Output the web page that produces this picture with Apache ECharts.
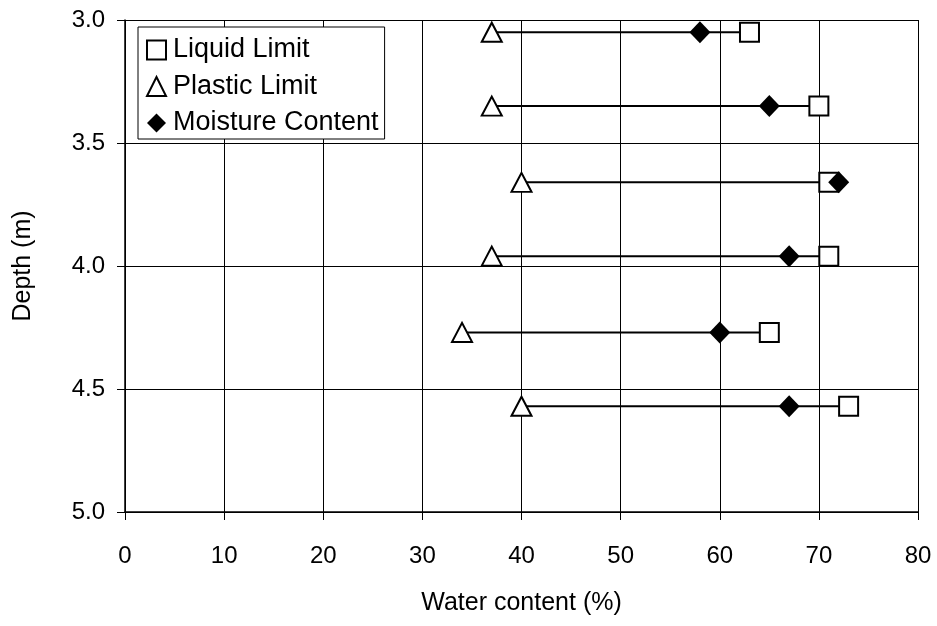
<!DOCTYPE html>
<html>
<head>
<meta charset="utf-8">
<script src="https://cdn.jsdelivr.net/npm/echarts@6/dist/echarts.min.js"></script>
<style>html,body{margin:0;padding:0;background:#fff}#c{width:937px;height:626px}</style>
</head>
<body>
<div id="c"></div>
<script>
// Depths (m)
const depths = [3.05, 3.35, 3.66, 3.96, 4.27, 4.57];
// Water contents (%)
const liquidLimit = [63, 70, 71, 71, 65, 73];
const plasticLimit = [37, 37, 40, 37, 34, 40];
const moistureContent = [58, 65, 72, 67, 60, 67];
const xTicks = [0, 10, 20, 30, 40, 50, 60, 70, 80];
const yTicks = [3.0, 3.5, 4.0, 4.5, 5.0];

const FONT = 'Liberation Sans, Arial, sans-serif';
const chart = echarts.init(document.getElementById('c'));

const connectors = depths.map((d, i) => ({
  type: 'line',
  data: [[plasticLimit[i], d], [liquidLimit[i], d]],
  symbol: 'none',
  lineStyle: { color: '#000', width: 2 },
  z: 2,
  silent: true,
  animation: false
}));

chart.setOption({
  animation: false,
  backgroundColor: '#fff',
  grid: { left: 125, right: 19, top: 20, bottom: 114 },
  legend: {
    data: ['Liquid Limit', 'Plastic Limit', 'Moisture Content'],
    orient: 'vertical',
    left: 138, top: 27,
    backgroundColor: '#fff',
    borderColor: '#000', borderWidth: 1,
    padding: [9, 6, 2, 8],
    itemWidth: 19, itemHeight: 19, itemGap: 8.5,
    textStyle: { fontFamily: FONT, fontSize: 27, lineHeight: 28, color: '#000', padding: [0, 0, 0, 2] },
    z: 10
  },
  xAxis: {
    type: 'value', min: xTicks[0], max: xTicks[xTicks.length - 1], interval: 10,
    name: 'Water content (%)', nameLocation: 'middle', nameGap: 79,
    nameTextStyle: { fontFamily: FONT, fontSize: 25, color: '#000' },
    axisLine: { show: true, lineStyle: { color: '#000', width: 1.5 } },
    axisTick: { show: true, inside: false, length: 8, lineStyle: { color: '#000' } },
    axisLabel: { fontFamily: FONT, fontSize: 24, color: '#000', margin: 32 },
    splitLine: { show: true, lineStyle: { color: '#000', width: 1 } }
  },
  yAxis: {
    type: 'value', min: yTicks[0], max: yTicks[yTicks.length - 1], interval: 0.5, inverse: true,
    name: 'Depth (m)', nameLocation: 'middle', nameGap: 89, nameRotate: 90,
    nameTextStyle: { fontFamily: FONT, fontSize: 25, color: '#000' },
    axisLine: { show: true, lineStyle: { color: '#000', width: 1.5 } },
    axisTick: { show: true, inside: false, length: 8, lineStyle: { color: '#000' } },
    axisLabel: { fontFamily: FONT, fontSize: 24, color: '#000', margin: 20, formatter: v => v.toFixed(1) },
    splitLine: { show: true, lineStyle: { color: '#000', width: 1 } }
  },
  series: connectors.concat([
    {
      name: 'Liquid Limit', type: 'scatter',
      data: depths.map((d, i) => [liquidLimit[i], d]),
      symbol: 'rect', symbolSize: 19,
      itemStyle: { color: '#fff', borderColor: '#000', borderWidth: 2, opacity: 1 },
      z: 3
    },
    {
      name: 'Plastic Limit', type: 'scatter',
      data: depths.map((d, i) => [plasticLimit[i], d]),
      symbol: 'triangle', symbolSize: [20, 19],
      itemStyle: { color: '#fff', borderColor: '#000', borderWidth: 2, opacity: 1 },
      z: 3
    },
    {
      name: 'Moisture Content', type: 'scatter',
      data: depths.map((d, i) => [moistureContent[i], d]),
      symbol: 'diamond', symbolSize: [21, 22],
      itemStyle: { color: '#000', opacity: 1 },
      z: 4
    }
  ])
});
</script>
</body>
</html>
